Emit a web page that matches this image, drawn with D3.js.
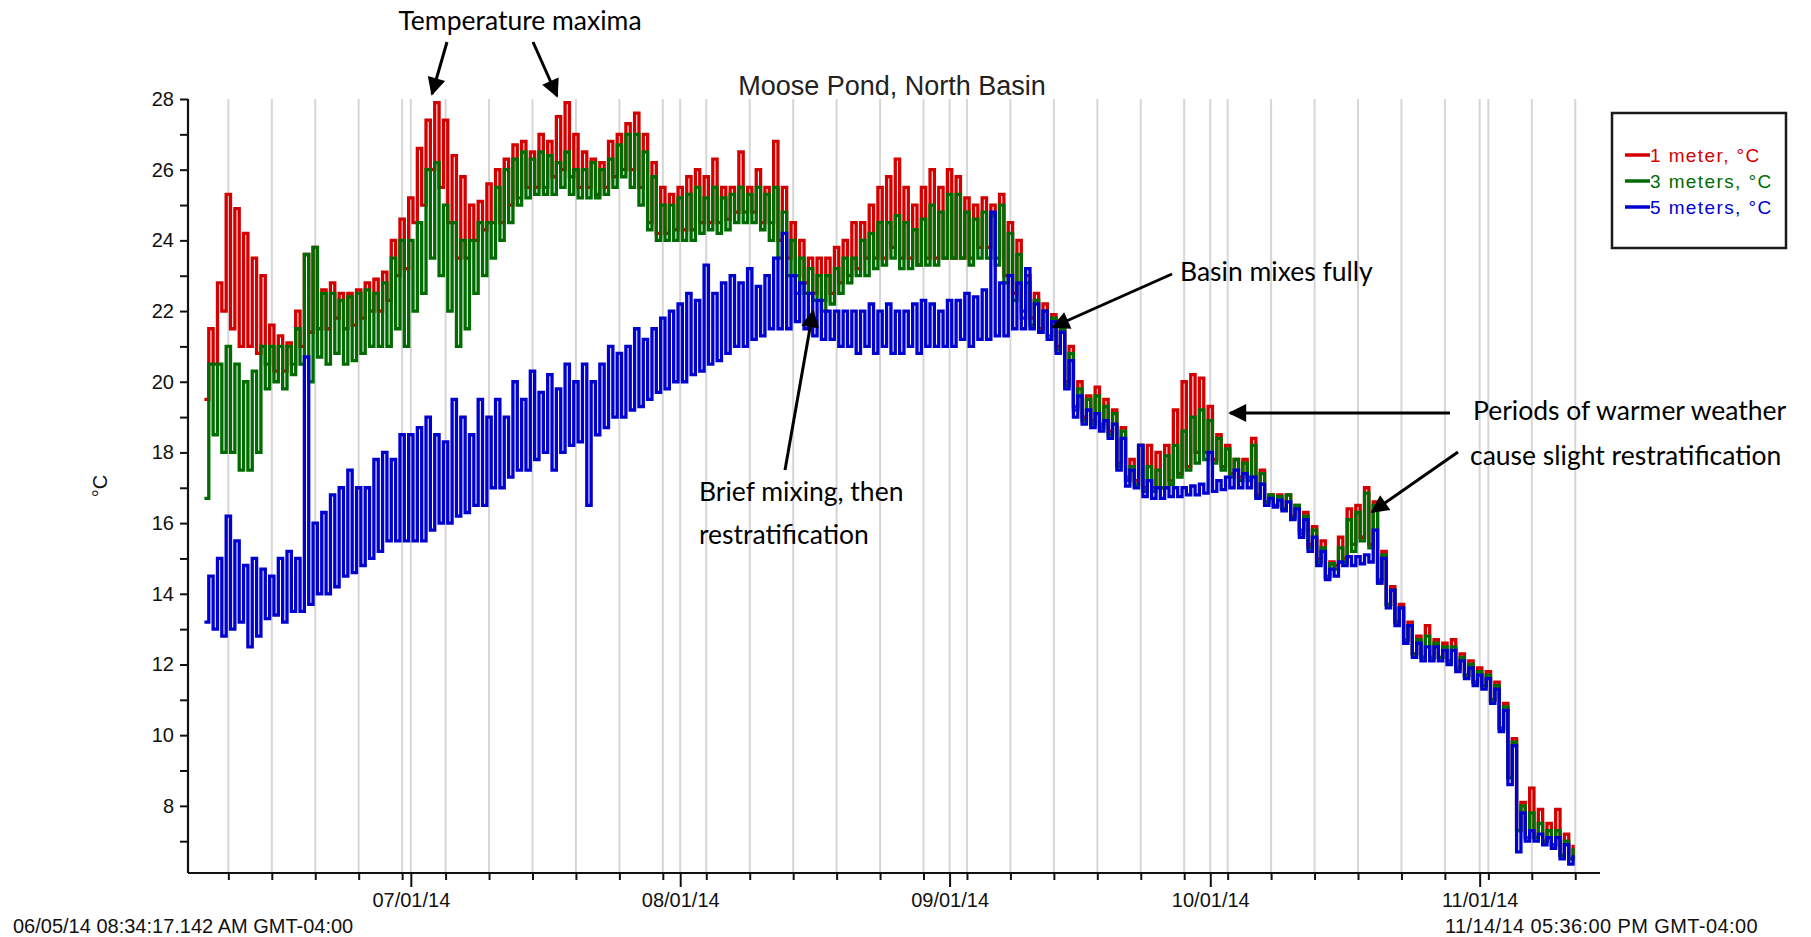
<!DOCTYPE html>
<html>
<head>
<meta charset="utf-8">
<script src="https://cdn.jsdelivr.net/npm/d3@7"></script>
<style>
  body { margin: 0; background: #fff; }
  svg { display: block; }
  .axis text { font-family: "Liberation Sans", Arial, sans-serif; font-size: 20px; fill: #111; }
  .note { font-family: Lato, "Open Sans", sans-serif; font-size: 26.5px; fill: #000; }
</style>
</head>
<body>
<svg id="chart" width="1811" height="937"></svg>
<script>
// ---- Logger record: Moose Pond, North Basin, 2014 ----
const axisStart = Date.UTC(2014, 5, 5, 8, 34, 17, 142);
const axisEnd = Date.UTC(2014, 10, 14, 17, 36, 0);
const firstDay = Date.UTC(2014, 5, 7); // first full day of readings, one entry per day below

// Daily low / high readings, °C
const lo1m = [
  19.5, 20.5, 22, 21.5, 21, 21, 20.8, 20.5, 20.3, 20.3,
  20.5, 21, 21.4, 21.5, 21.5, 21.8, 21.5, 21.6, 21.8, 22,
  22, 22.3, 23, 23.2, 24.5, 25, 26, 25.5, 24.5, 23.5,
  23.5, 24, 24.3, 24.5, 24.5, 25, 25.2, 25.5, 25.5, 25.5,
  25.8, 26, 25.8, 25.5, 25.5, 25.3, 25.5, 25.8, 26, 26,
  25.5, 24.5, 24.2, 24.2, 24.3, 24.3, 24.3, 24.5, 24.5, 24.5,
  24.6, 24.8, 24.8, 24.8, 24.5, 24.5, 24, 23.5, 23, 22.8,
  22.5, 22.3, 22.5, 22.8, 23, 23.2, 23.5, 23.5, 23.5, 23.8,
  23.5, 23.5, 23.3, 23.5, 23.5, 23.5, 23.5, 23.5, 23.5, 23.8,
  23.8, 23.5, 23, 22.5, 22, 21.8, 21.5, 21.3, 21, 20,
  19.3, 19, 18.9, 18.8, 18.6, 17.7, 17.3, 17.2, 17, 17,
  17, 17.2, 17.4, 17.6, 18, 18, 17.8, 17.6, 17.4, 17.3,
  17.3, 16.8, 16.6, 16.5, 16.4, 16.2, 15.8, 15.4, 15, 14.5,
  14.8, 15, 15.4, 15.6, 15.4, 14.4, 13.7, 13.2, 12.7, 12.3,
  12.2, 12.2, 12.2, 12.1, 11.9, 11.7, 11.5, 11.4, 11, 10.2,
  8.8, 7.3, 7.1, 7.1, 7.0, 6.9, 6.6, 6.5
];
const hi1m = [
  21.5, 22.8, 25.3, 24.9, 24.2, 23.5, 23, 21.6, 21.3, 21.1,
  22, 23.6, 23.8, 22.6, 22.8, 22.5, 22.5, 22.6, 22.8, 22.9,
  23.1, 24, 24.6, 25.2, 26.6, 27.4, 27.9, 27.4, 26.4, 25.8,
  25, 25.1, 25.6, 26, 26.3, 26.7, 26.8, 26.5, 27, 26.8,
  27.5, 27.9, 27, 26.5, 26.3, 26.2, 26.8, 27, 27.3, 27.6,
  27, 26.2, 25.5, 25.3, 25.5, 25.8, 26, 25.8, 26.3, 25.5,
  25.5, 26.5, 25.5, 26, 25.5, 26.8, 25.5, 24.5, 24, 23.5,
  23.5, 23.5, 23.8, 24, 24.5, 24.5, 25, 25.5, 25.8, 26.3,
  25.5, 25, 25.5, 26, 25.5, 26, 25.8, 25.2, 25, 25.2,
  25, 25.3, 24.5, 24, 23, 22.5, 22.2, 21.9, 21.6, 21,
  20, 19.6, 19.85, 19.5, 19.2, 18.7, 17.8, 18.2, 18.2, 18,
  18.2, 19.2, 20, 20.2, 20.1, 19.3, 18.5, 18.2, 17.8, 17.8,
  18.4, 17.5, 16.8, 16.8, 16.8, 16.5, 16.3, 15.9, 15.5, 14.9,
  15.6, 16.4, 16.5, 17, 16.6, 15.2, 14.2, 13.7, 13.2, 12.8,
  13.1, 12.7, 12.6, 12.7, 12.3, 12.1, 11.9, 11.8, 11.5, 10.9,
  9.9, 8.1, 8.5, 7.9, 7.5, 7.9, 7.2, 6.9
];
const lo3m = [
  16.7, 18.5, 18, 18, 17.5, 17.5, 18, 19.8, 20, 19.8,
  20.2, 20.5, 20, 20.7, 20.5, 20.8, 20.5, 20.6, 20.8, 21,
  21, 21, 21.5, 21, 22, 22.5, 23.5, 23, 22, 21,
  21.5, 22.5, 23, 23.5, 24, 24.5, 25, 25.2, 25.3, 25.3,
  25.3, 25.5, 25.3, 25.2, 25.2, 25.2, 25.3, 25.5, 25.8, 25.5,
  25, 24.3, 24, 24, 24, 24, 24, 24.2, 24.3, 24.2,
  24.3, 24.5, 24.5, 24.5, 24.3, 24, 23.5, 23, 22.5, 22.5,
  22.3, 22, 22.2, 22.5, 22.8, 23, 23, 23.2, 23.3, 23.5,
  23.2, 23.2, 23.3, 23.3, 23.3, 23.5, 23.5, 23.5, 23.3, 23.5,
  23.5, 23.3, 22.8, 22.3, 21.8, 21.6, 21.4, 21.2, 20.9, 19.9,
  19.2, 18.9, 18.8, 18.7, 18.5, 17.6, 17.2, 17.1, 16.9, 16.9,
  17, 17.1, 17.3, 17.5, 17.7, 17.8, 17.7, 17.5, 17.3, 17.2,
  17.2, 16.75, 16.6, 16.5, 16.4, 16.15, 15.7, 15.3, 14.9, 14.45,
  14.7, 14.9, 15.2, 15.5, 15.3, 14.3, 13.7, 13.2, 12.7, 12.3,
  12.2, 12.2, 12.2, 12.1, 11.9, 11.7, 11.5, 11.4, 11, 10.2,
  8.8, 7.3, 7.1, 7.1, 7, 6.9, 6.6, 6.5
];
const hi3m = [
  20.5, 20.5, 21, 20.5, 20, 20.3, 21, 21, 21, 21,
  21.5, 23.6, 23.8, 22.5, 22.5, 22.3, 22.4, 22.5, 22.6, 22.5,
  22.8, 23.5, 24, 24, 24.5, 26, 26.2, 25, 24.5, 24,
  24, 24.5, 24.5, 25.5, 26, 26.3, 26.5, 26.3, 26.5, 26.4,
  26.2, 26.5, 26, 26, 26.2, 26, 26.3, 26.7, 27, 27,
  26.5, 25.8, 25, 25, 25.2, 25.3, 25.5, 25.2, 25.5, 25.2,
  25.3, 25.5, 25.3, 25.5, 25.3, 25.5, 24.8, 24, 23.5, 23.2,
  23, 23, 23.2, 23.5, 23.5, 24, 24.2, 24.5, 24.5, 24.7,
  24.5, 24.3, 24.6, 25, 24.8, 25.3, 25.3, 24.8, 24.6, 24.8,
  24.7, 25, 24.2, 23.6, 22.8, 22.3, 22, 21.8, 21.5, 20.8,
  19.8, 19.5, 19.6, 19.3, 19.1, 18.6, 17.6, 18.2, 17.6, 17.5,
  17.9, 18.2, 18.6, 19, 19.2, 18.9, 18.4, 18.1, 17.8, 17.7,
  18.2, 17.4, 16.8, 16.75, 16.8, 16.5, 16.2, 15.8, 15.3, 14.85,
  15.3, 16.1, 16.3, 16.85, 16.5, 15.1, 14.1, 13.6, 13.1, 12.7,
  12.8, 12.6, 12.5, 12.5, 12.2, 12, 11.8, 11.7, 11.4, 10.8,
  9.8, 8, 7.8, 7.5, 7.3, 7.3, 7, 6.8
];
const lo5m = [
  13.2, 13, 12.8, 13, 13.2, 12.5, 12.8, 13.3, 13.4, 13.2,
  13.5, 13.5, 13.7, 14, 14, 14.2, 14.5, 14.6, 14.8, 15,
  15.2, 15.5, 15.5, 15.5, 15.5, 15.5, 15.8, 16, 16, 16.2,
  16.3, 16.5, 16.5, 17, 17, 17.3, 17.5, 17.5, 17.8, 18,
  17.5, 18, 18.2, 18.3, 16.5, 18.5, 18.7, 19, 19, 19.2,
  19.3, 19.5, 19.7, 19.8, 20, 20, 20.2, 20.3, 20.5, 20.6,
  20.8, 21, 21, 21.2, 21.3, 21.5, 21.5, 21.5, 21.7, 21.5,
  21.3, 21.2, 21.2, 21, 21, 20.8, 21, 20.8, 21, 20.8,
  20.8, 21, 20.8, 21, 21, 21, 21, 21.2, 21, 21.2,
  21.2, 21.3, 21.3, 21.5, 21.5, 21.5, 21.4, 21.2, 20.8, 19.8,
  19, 18.8, 18.7, 18.6, 18.4, 17.5, 17.05, 17, 16.75, 16.7,
  16.7, 16.75, 16.75, 16.8, 16.8, 16.85, 16.9, 16.95, 17, 17,
  17, 16.7, 16.5, 16.45, 16.35, 16.1, 15.6, 15.2, 14.8, 14.4,
  14.5, 14.8, 14.8, 14.85, 14.9, 14.3, 13.6, 13.1, 12.6, 12.2,
  12.1, 12.1, 12.1, 12, 11.8, 11.6, 11.4, 11.3, 10.9, 10.1,
  8.6, 6.7, 7, 7, 6.9, 6.8, 6.5, 6.35
];
const hi5m = [
  14.5, 15, 16.2, 15.5, 14.8, 15, 14.7, 14.5, 15, 15.2,
  15, 20.7, 16, 16.3, 16.8, 17, 17.5, 17, 17, 17.8,
  18, 17.8, 18.5, 18.5, 18.7, 19, 18.5, 18.3, 19.5, 19,
  18.5, 19.5, 19, 19.5, 19, 20, 19.5, 20.3, 19.7, 20.2,
  19.8, 20.5, 20, 20.5, 20, 20.5, 21, 20.8, 21, 21.5,
  21.2, 21.5, 21.8, 22, 22.2, 22.5, 22.3, 23.3, 22.5, 22.8,
  23, 22.8, 23.2, 22.7, 23, 23.5, 24.2, 23, 22.8, 22.5,
  22.3, 22, 22, 22, 22, 22, 22.2, 22, 22.2, 22,
  22, 22.2, 22.3, 22.2, 22, 22.3, 22.3, 22.5, 22.4, 22.6,
  24.8, 22.8, 23, 22.8, 23.2, 22.2, 22, 21.7, 21.4, 20.6,
  19.6, 19.2, 19.1, 18.9, 18.8, 18.4, 17.5, 18.2, 17.2, 17,
  17, 17, 17, 17.05, 17.1, 18, 17.2, 17.3, 17.5, 17.4,
  17.3, 17.1, 16.7, 16.65, 16.6, 16.4, 16.1, 15.6, 15.2, 14.7,
  14.9, 15.05, 15.05, 15.1, 15.8, 15, 14.1, 13.6, 13.1, 12.6,
  12.5, 12.5, 12.4, 12.4, 12.1, 11.9, 11.7, 11.6, 11.3, 10.7,
  9.7, 7.8, 7.3, 7.2, 7.1, 7.1, 6.9, 6.6
];

const seriesNames = ["1 meter, °C", "3 meters, °C", "5 meters, °C"];
const seriesLows = [lo1m, lo3m, lo5m];
const seriesHighs = [hi1m, hi3m, hi5m];
const seriesColors = ["#d40000", "#006b00", "#0000d0"];

const yTickValues = d3.range(7, 29, 1);
const monthTicks = [6, 7, 8, 9, 10].map(m => new Date(Date.UTC(2014, m, 1)));

// ---- Layout ----
const svg = d3.select("#chart");
const plot = { left: 188, right: 1599, top: 99, bottom: 873 };
const DAY = 864e5;

const x = d3.scaleUtc().domain([axisStart, axisEnd]).range([plot.left, plot.right]);
const y = d3.scaleLinear().domain([6.1, 28]).range([plot.bottom, plot.top]);

const fiveDayTicks = d3.utcDay.range(new Date(Date.UTC(2014, 5, 10)), new Date(axisEnd), 5);
const gridTicks = fiveDayTicks.concat(monthTicks);

// vertical grid
svg.append("g")
  .selectAll("line")
  .data(gridTicks)
  .join("line")
  .attr("x1", d => x(d)).attr("x2", d => x(d))
  .attr("y1", plot.top).attr("y2", plot.bottom)
  .attr("stroke", "#d6d6d6").attr("stroke-width", 2);

// title
svg.append("text")
  .attr("x", 892).attr("y", 95)
  .attr("text-anchor", "middle")
  .style("font-family", "'Liberation Sans', Arial, sans-serif")
  .style("font-size", "27px").style("fill", "#222")
  .text("Moose Pond, North Basin");

// series: readings alternate between the day's low and high
function readings(lows, highs) {
  const pts = [];
  lows.forEach((v, i) => {
    const t = firstDay + i * DAY;
    pts.push([t + 0.25 * DAY, v]);
    pts.push([t + 0.75 * DAY, highs[i]]);
  });
  return pts;
}
const line = d3.line()
  .x(d => x(d[0]))
  .y(d => y(d[1]))
  .curve(d3.curveStepAfter);

const seriesG = svg.append("g");
seriesNames.forEach((name, s) => {
  seriesG.append("path")
    .datum(readings(seriesLows[s], seriesHighs[s]))
    .attr("fill", "none")
    .attr("stroke", seriesColors[s])
    .attr("stroke-width", 3.3)
    .attr("stroke-linejoin", "miter")
    .attr("d", line);
});

// y axis
const yAxis = d3.axisLeft(y)
  .tickValues(yTickValues)
  .tickSize(8)
  .tickPadding(6)
  .tickFormat(d => d % 2 === 0 ? d : "");
const gy = svg.append("g").attr("class", "axis")
  .attr("transform", `translate(${plot.left},0)`)
  .call(yAxis);
gy.select(".domain").attr("stroke", "#111").attr("stroke-width", 2.2)
  .attr("d", `M0,${plot.top}V${plot.bottom}`);
gy.selectAll(".tick line").attr("stroke", "#111").attr("stroke-width", 2);

// x axis: five-day minor ticks and labelled month ticks
const gxMinor = svg.append("g").attr("class", "axis")
  .attr("transform", `translate(0,${plot.bottom})`)
  .call(d3.axisBottom(x).tickValues(fiveDayTicks).tickSize(7).tickFormat(""));
gxMinor.select(".domain").attr("stroke", "#111").attr("stroke-width", 2.2)
  .attr("d", `M${plot.left},0H${plot.right + 1}`);
gxMinor.selectAll(".tick line").attr("stroke", "#111").attr("stroke-width", 2);

const gxMajor = svg.append("g").attr("class", "axis")
  .attr("transform", `translate(0,${plot.bottom})`)
  .call(d3.axisBottom(x).tickValues(monthTicks).tickSize(14).tickPadding(6)
    .tickFormat(d3.utcFormat("%m/%d/%y")));
gxMajor.select(".domain").remove();
gxMajor.selectAll(".tick line").attr("stroke", "#111").attr("stroke-width", 2);
gxMajor.selectAll(".tick text").attr("dy", "0.71em").attr("y", 20);

// range end labels
svg.append("text")
  .attr("x", 13).attr("y", 933)
  .style("font-family", "'Liberation Sans', Arial, sans-serif")
  .style("font-size", "20px").style("fill", "#111")
  .text("06/05/14 08:34:17.142 AM GMT-04:00");
svg.append("text")
  .attr("x", 1445).attr("y", 933)
  .style("font-family", "'Liberation Sans', Arial, sans-serif")
  .style("font-size", "20px").style("fill", "#111").style("letter-spacing", "0.4px")
  .text("11/14/14 05:36:00 PM GMT-04:00");

// y label
svg.append("text")
  .attr("transform", "translate(107,486) rotate(-90)")
  .attr("text-anchor", "middle")
  .style("font-family", "'Liberation Sans', Arial, sans-serif")
  .style("font-size", "20px").style("fill", "#111")
  .text("°C");

// legend
const lg = svg.append("g");
lg.append("rect")
  .attr("x", 1612).attr("y", 113).attr("width", 174).attr("height", 135)
  .attr("fill", "#fff").attr("stroke", "#1a1a1a").attr("stroke-width", 2.5);
seriesNames.forEach((name, s) => {
  const yy = 155 + s * 26;
  lg.append("line")
    .attr("x1", 1625).attr("x2", 1650).attr("y1", yy).attr("y2", yy)
    .attr("stroke", seriesColors[s]).attr("stroke-width", 3.5);
  lg.append("text")
    .attr("x", 1650).attr("y", yy + 7)
    .style("font-family", "'Liberation Sans', Arial, sans-serif")
    .style("font-size", "19px").style("letter-spacing", "1.4px")
    .style("fill", seriesColors[s])
    .text(name);
});

// annotations
const defs = svg.append("defs");
defs.append("marker")
  .attr("id", "head").attr("viewBox", "0 0 10 10")
  .attr("refX", 9).attr("refY", 5)
  .attr("markerWidth", 7).attr("markerHeight", 6)
  .attr("markerUnits", "strokeWidth")
  .attr("orient", "auto")
  .append("path").attr("d", "M0,0L10,5L0,10Z").attr("fill", "#000");

const arrows = [
  [447, 42, 432, 94],
  [533, 42, 557, 96],
  [1172, 274, 1053, 327],
  [785, 470, 813, 311],
  [1450, 413, 1230, 413],
  [1458, 452, 1372, 512]
];
svg.append("g").selectAll("line").data(arrows).join("line")
  .attr("x1", d => d[0]).attr("y1", d => d[1])
  .attr("x2", d => d[2]).attr("y2", d => d[3])
  .attr("stroke", "#000").attr("stroke-width", 3)
  .attr("marker-end", "url(#head)");

const notes = [
  ["Temperature maxima", 520, 30, "middle"],
  ["Basin mixes fully", 1180, 281, "start"],
  ["Brief mixing, then", 699, 501, "start"],
  ["restratification", 699, 544, "start"],
  ["Periods of warmer weather", 1473, 420, "start"],
  ["cause slight restratification", 1470, 465, "start"]
];
svg.append("g").selectAll("text").data(notes).join("text")
  .attr("class", "note")
  .attr("x", d => d[1]).attr("y", d => d[2])
  .attr("text-anchor", d => d[3])
  .text(d => d[0]);
</script>
</body>
</html>
